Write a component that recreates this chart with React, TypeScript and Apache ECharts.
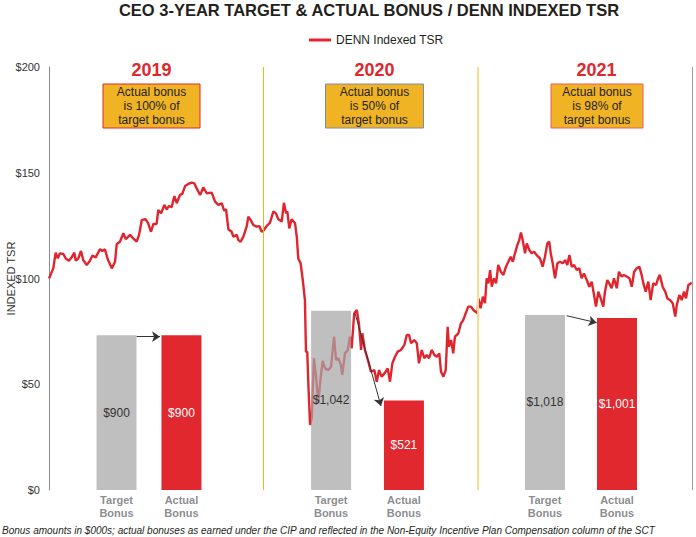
import React, { useEffect, useRef } from "react";
import * as echarts from "echarts";

const chartTitle = "CEO 3-YEAR TARGET & ACTUAL BONUS / DENN INDEXED TSR";
const seriesName = "DENN Indexed TSR";
const yAxisName = "INDEXED TSR";
const years = ["2019", "2020", "2021"];
const boxTexts = [
  "Actual bonus\nis 100% of\ntarget bonus",
  "Actual bonus\nis 50% of\ntarget bonus",
  "Actual bonus\nis 98% of\ntarget bonus",
];
const footnote =
  "Bonus amounts in $000s; actual bonuses as earned under the CIP and reflected in the Non-Equity Incentive Plan Compensation column of the SCT";

// Indexed TSR: [years elapsed since start of 2019, indexed value]
const tsr2019: [number, number][] = [
  [0, 100], [0.02, 104.8], [0.031, 112.2], [0.041, 109.5], [0.051, 111.9], [0.067, 111.6],
  [0.078, 109.5], [0.093, 108.4], [0.106, 110], [0.118, 112.2], [0.125, 108.4], [0.137, 109.5],
  [0.149, 113], [0.16, 108.7], [0.176, 106.4], [0.191, 108.4], [0.202, 110.8], [0.218, 110],
  [0.238, 113.9], [0.249, 113], [0.261, 113.8], [0.274, 109.1], [0.293, 104.8], [0.308, 107.9],
  [0.316, 116.3], [0.331, 117.4], [0.347, 121.4], [0.358, 118.6], [0.378, 120.6], [0.393, 119],
  [0.409, 117.4], [0.42, 120.6], [0.433, 127.7], [0.451, 128], [0.463, 126.1], [0.476, 122.1],
  [0.487, 125.8], [0.502, 125.8], [0.51, 132.4], [0.523, 130.8], [0.538, 134.8], [0.549, 132.7],
  [0.56, 134.3], [0.572, 133.7], [0.585, 139], [0.596, 135.6], [0.611, 139.5], [0.622, 140],
  [0.635, 143.7], [0.65, 144.7], [0.666, 145.3], [0.678, 145], [0.689, 142.6], [0.705, 139.5],
  [0.72, 143.1], [0.736, 140.3], [0.759, 140.6], [0.775, 136.3], [0.79, 134.8], [0.806, 135.6],
  [0.817, 132.1], [0.826, 132.7], [0.837, 123.3], [0.852, 122.1], [0.86, 119.8], [0.876, 120.6],
  [0.883, 118.2], [0.894, 117.4], [0.907, 119.8], [0.922, 124.5], [0.93, 129.2], [0.941, 127.7],
  [0.953, 125.3], [0.969, 124.5], [0.981, 124.8], [0.992, 122.1],
];
const tsr2020: [number, number][] = [
  [1.0, 122.6], [1.016, 124.8], [1.031, 126.4], [1.047, 131.7], [1.059, 130.8], [1.07, 128],
  [1.086, 126.9], [1.096, 135.8], [1.106, 130.8], [1.112, 131.7], [1.121, 123.7], [1.132, 128],
  [1.148, 126.1], [1.156, 119.8], [1.163, 109.5], [1.174, 107.2], [1.184, 99.3], [1.194, 89.8],
  [1.199, 65.4], [1.205, 65.4], [1.21, 50.4], [1.218, 30.7], [1.226, 33.9], [1.236, 62.3],
  [1.246, 53.6], [1.256, 41], [1.268, 53.6], [1.277, 61.1], [1.288, 57.5], [1.303, 56.7],
  [1.316, 58.3], [1.33, 72.5], [1.339, 61.5], [1.35, 62.3], [1.362, 59.1], [1.368, 54.4],
  [1.381, 64.6], [1.394, 66.2], [1.404, 72.5], [1.412, 67], [1.424, 83.5], [1.436, 85.1],
  [1.446, 78.8], [1.456, 66.2], [1.462, 74.1], [1.474, 66.2], [1.49, 60.7], [1.502, 55.9],
  [1.518, 56.7], [1.529, 51.2], [1.54, 56.7], [1.552, 53.6], [1.568, 55.5], [1.58, 57.5],
  [1.591, 51.2], [1.602, 59.9], [1.614, 63], [1.627, 65.4], [1.642, 66.2], [1.658, 68.6],
  [1.669, 73.3], [1.68, 73.3], [1.689, 69.4], [1.704, 70.9], [1.716, 69.4], [1.726, 59.9],
  [1.739, 66.2], [1.751, 62.3], [1.762, 63.8], [1.773, 62.3], [1.786, 66.2], [1.798, 63.8],
  [1.809, 63], [1.821, 64.6], [1.829, 55.9], [1.84, 53.6], [1.851, 56.7], [1.86, 77.2],
  [1.866, 67.8], [1.876, 70.9], [1.886, 64.6], [1.894, 72.5], [1.91, 74.1], [1.922, 78.8],
  [1.933, 80.4], [1.941, 82.7], [1.956, 86.7], [1.969, 86.7], [1.98, 85.1],
];
const tsr2021: [number, number][] = [
  [2.0, 83.5], [2.003, 90.6], [2.014, 85.9], [2.024, 91.4], [2.034, 88.3], [2.042, 100.1],
  [2.05, 97.7], [2.058, 104], [2.066, 96.1], [2.076, 100.1], [2.086, 97.7], [2.096, 106.4],
  [2.108, 103.2], [2.12, 101.7], [2.132, 105.6], [2.143, 107.9], [2.154, 110.3], [2.164, 107.9],
  [2.174, 111.9], [2.185, 115.8], [2.194, 118.2], [2.202, 121.7], [2.21, 118.2], [2.221, 111.9],
  [2.229, 116.6], [2.241, 113.5], [2.252, 111.9], [2.263, 112.7], [2.275, 111.1], [2.291, 109.5],
  [2.303, 105.6], [2.314, 110.3], [2.325, 116.6], [2.334, 117.4], [2.341, 111.9], [2.35, 107.2],
  [2.361, 100.1], [2.372, 107.2], [2.384, 107.9], [2.397, 107.2], [2.408, 108.7], [2.418, 106.4],
  [2.428, 111.1], [2.439, 105.6], [2.45, 106.4], [2.462, 104], [2.474, 104.8], [2.485, 100.1],
  [2.496, 102.4], [2.509, 99.3], [2.521, 96.1], [2.532, 98.5], [2.543, 92.2], [2.552, 86.7],
  [2.563, 93.8], [2.574, 90.6], [2.586, 86.7], [2.594, 93.8], [2.605, 99.3], [2.614, 97.7],
  [2.625, 95.4], [2.636, 100.1], [2.649, 95.4], [2.659, 103.2], [2.672, 100.9], [2.682, 101.7],
  [2.695, 100.9], [2.708, 100.1], [2.719, 96.1], [2.73, 103.2], [2.742, 104.8], [2.754, 105.6],
  [2.765, 101.7], [2.773, 97.7], [2.784, 93.8], [2.796, 98.5], [2.807, 89.8], [2.819, 97.7],
  [2.832, 96.9], [2.842, 100.1], [2.85, 101.7], [2.863, 96.1], [2.875, 93.8], [2.885, 90.6],
  [2.897, 89.8], [2.91, 88.3], [2.922, 82], [2.929, 87.5], [2.941, 92.2], [2.952, 89.8],
  [2.963, 93.8], [2.972, 90.6], [2.983, 96.9], [2.999, 98],
];

// Bonus bars ($000s)
const barCategories = ["Target\nBonus", "Actual\nBonus", "Target\nBonus", "Actual\nBonus", "Target\nBonus", "Actual\nBonus"];
const barPositions = [0.315, 0.618, 1.316, 1.656, 2.314, 2.65]; // years elapsed
const bonusTarget = [900, 1042, 1018];
const bonusActual = [900, 521, 1001];

// Arrows from target to actual, in [years elapsed, TSR units]
const arrows: [number, number][][] = [
  [[0.409, 72.5], [0.518, 72.5]],
  [[1.428, 83.5], [1.549, 39.7]],
  [[2.415, 82.4], [2.555, 79.1]],
];
const yearSeparators = [1, 2, 3];

const FONT = "'Liberation Sans', Arial, Helvetica, sans-serif";

export default function App() {
  const ref = useRef<HTMLDivElement>(null);
  useEffect(() => {
    if (!ref.current) return;
    const chart = echarts.init(ref.current, undefined, { renderer: "svg" });
    const fmt = (v: number) => "$" + v.toLocaleString("en-US");
    const barData = barPositions.map((x, i) => {
      const yr = Math.floor(i / 2);
      const isTarget = i % 2 === 0;
      const v = isTarget ? bonusTarget[yr] : bonusActual[yr];
      return {
        value: [x, v],
        itemStyle: { color: isTarget ? "rgba(168,166,166,0.72)" : "#e1282f" },
        label: { color: isTarget ? "#333333" : "#ffffff" },
      };
    });
    const yearCenters = [151.5, 374.5, 596.5];
    const boxes = [
      { x: 103, w: 97, stroke: "#e0262e" },
      { x: 325.5, w: 98, stroke: "#7d8ca6" },
      { x: 551, w: 92, stroke: "#e85a60" },
    ];
    const graphics: any[] = [
      {
        type: "text",
        x: 369,
        y: 10,
        style: {
          text: chartTitle,
          font: `bold 16.5px ${FONT}`,
          fill: "#231f20",
          textAlign: "center",
          textVerticalAlign: "middle",
        },
      },
      {
        type: "text",
        x: 2,
        y: 530,
        style: {
          text: footnote,
          font: `italic 10px ${FONT}`,
          fill: "#231f20",
          textAlign: "left",
          textVerticalAlign: "middle",
        },
      },
    ];
    years.forEach((yr, i) => {
      graphics.push({
        type: "text",
        x: yearCenters[i],
        y: 70,
        style: {
          text: yr,
          font: `bold 18px ${FONT}`,
          fill: "#e0262e",
          textAlign: "center",
          textVerticalAlign: "middle",
        },
      });
      graphics.push({
        type: "rect",
        shape: { x: boxes[i].x, y: 84, width: boxes[i].w, height: 44 },
        style: { fill: "#f0b323", stroke: boxes[i].stroke, lineWidth: 1 },
      });
      graphics.push({
        type: "text",
        x: boxes[i].x + boxes[i].w / 2,
        y: 106,
        style: {
          text: boxTexts[i],
          font: `12px ${FONT}`,
          lineHeight: 14,
          fill: "#231f20",
          textAlign: "center",
          textVerticalAlign: "middle",
        },
      });
    });

    chart.setOption({
      animation: false,
      textStyle: { fontFamily: FONT },
      grid: { left: 49, right: 4, top: 67, bottom: 47, containLabel: false, outerBoundsMode: "none" },
      legend: {
        data: [seriesName],
        left: 304,
        top: 29,
        icon: "rect",
        itemWidth: 22,
        itemHeight: 3,
        textStyle: { fontSize: 12, color: "#231f20", fontFamily: FONT },
      },
      xAxis: { type: "value", min: 0, max: 3, show: false },
      yAxis: [
        {
          type: "value",
          min: 0,
          max: 200,
          interval: 50,
          name: yAxisName,
          nameLocation: "middle",
          nameGap: 33,
          nameMoveOverlap: false,
          nameTextStyle: { fontSize: 11, color: "#333333", fontFamily: FONT },
          axisLine: { show: true, lineStyle: { color: "#8c8c8c", width: 1 } },
          axisTick: { show: false },
          splitLine: { show: false },
          axisLabel: {
            formatter: (v: number) => "$" + v,
            fontSize: 11,
            color: "#333333",
            margin: 9,
          },
        },
        { type: "value", min: 0, max: 2460, show: false },
      ],
      graphic: graphics,
      series: [
        {
          name: seriesName,
          type: "line",
          data: [...tsr2019, ...tsr2020, ...tsr2021],
          showSymbol: false,
          symbol: "none",
          z: 2,
          lineStyle: { color: "#e0252e", width: 2.4 },
          itemStyle: { color: "#e0252e" },
          markLine: {
            silent: true,
            animation: false,
            symbol: ["none", "arrow"],
            symbolSize: 8,
            label: { show: false },
            lineStyle: { color: "#333333", width: 1, type: "solid" },
            data: arrows.map((a) => [{ coord: a[0] }, { coord: a[1] }]),
          },
        },
        {
          name: "bonus",
          type: "bar",
          xAxisIndex: 0,
          yAxisIndex: 1,
          barWidth: 40,
          z: 3,
          data: barData,
          label: {
            show: true,
            position: "inside",
            fontSize: 12,
            formatter: (p: any) => fmt(p.value[1]),
          },
          markLine: {
            silent: true,
            animation: false,
            symbol: "none",
            label: { show: false },
            data: yearSeparators.map((x, i) => ({
              xAxis: x,
              lineStyle: {
                type: "solid",
                color: i === 0 ? "#f0b323" : i === 1 ? "#f8dc8f" : "#9a9a9a",
                width: i === 1 ? 2 : 1,
              },
            })),
          },
        },
        {
          name: "categories",
          type: "scatter",
          z: 4,
          symbolSize: 0.1,
          itemStyle: { color: "transparent" },
          data: barPositions.map((x, i) => ({ value: [x, 0], name: barCategories[i] })),
          label: {
            show: true,
            position: "bottom",
            distance: 3,
            formatter: "{b}",
            fontSize: 11,
            lineHeight: 13,
            fontWeight: "bold",
            color: "#6d6e71",
          },
        },
      ],
    });
    return () => chart.dispose();
  }, []);
  return (
    <div
      ref={ref}
      style={{ position: "absolute", left: 0, top: 0, width: 696, height: 537, background: "#fff" }}
    />
  );
}
